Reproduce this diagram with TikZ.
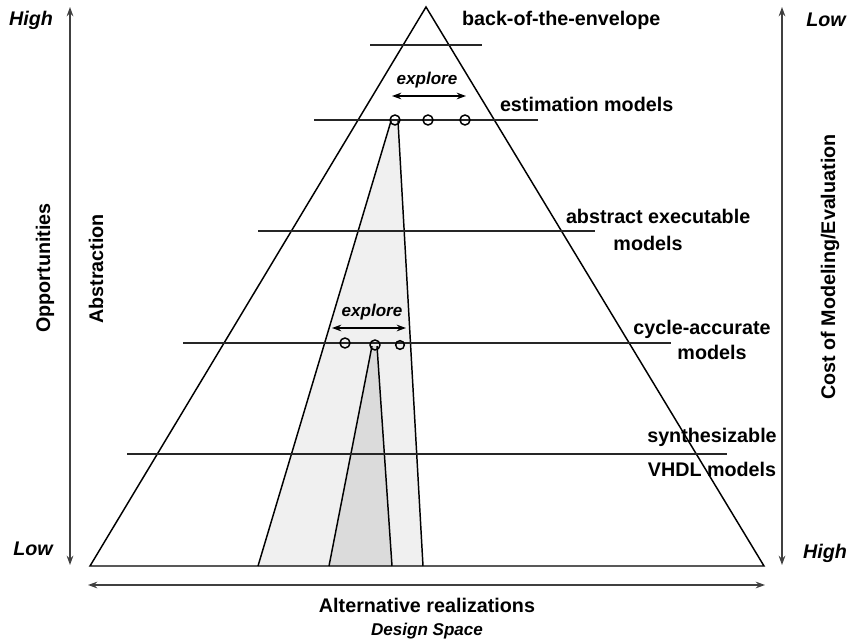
\documentclass[tikz,border=0pt]{standalone}
\usepackage{fontspec}
\setmainfont{Liberation Sans}
\usetikzlibrary{arrows.meta}
\begin{document}
\begin{tikzpicture}[x=0.75pt,y=-0.75pt,
  every node/.style={inner sep=0pt, outer sep=0pt},
  lbl/.style={font=\fontsize{14.8}{17}\selectfont\bfseries},
  lblit/.style={font=\fontsize{14.8}{17}\selectfont\bfseries\itshape},
  small/.style={font=\fontsize{12.8}{15}\selectfont\bfseries\itshape},
  level/.style={line width=1.1pt, black!85},
  edge/.style={line width=1.1pt, black},
  axis/.style={line width=1.1pt, black!75, {Stealth[length=7pt,width=5pt]}-{Stealth[length=7pt,width=5pt]}},
  explorearrow/.style={line width=1.1pt, black, {Stealth[length=7pt,width=5pt]}-{Stealth[length=7pt,width=5pt]}},
  pt/.style={circle, draw, line width=1.1pt, minimum size=7.5pt}
]
\useasboundingbox (0,0) rectangle (849,641);

% design-space pyramid
\coordinate (apex) at (426,7);
\coordinate (bl) at (90,566);
\coordinate (br) at (764,566);

% narrowed regions of the space
\fill[black!6] (391,121) -- (398,121) -- (423,566) -- (258,566) -- cycle;
\draw[edge] (391,121) -- (258,566);
\draw[edge] (398,121) -- (423,566);
\fill[black!14] (372,346) -- (377,346) -- (392,566) -- (329,566) -- cycle;
\draw[edge] (372,346) -- (329,566);
\draw[edge] (377,346) -- (392,566);

\draw[edge, line join=miter] (apex) -- (bl) -- (br) -- cycle;

% abstraction levels
\coordinate (l1a) at (370,45);  \coordinate (l1b) at (482,45);
\coordinate (l2a) at (314,120); \coordinate (l2b) at (538,120);
\coordinate (l3a) at (258,231); \coordinate (l3b) at (595,231);
\coordinate (l4a) at (183,343); \coordinate (l4b) at (671,343);
\coordinate (l5a) at (127,454); \coordinate (l5b) at (727,454);
\draw[level] (l1a) -- (l1b);
\draw[level] (l2a) -- (l2b);
\draw[level] (l3a) -- (l3b);
\draw[level] (l4a) -- (l4b);
\draw[level] (l5a) -- (l5b);

\node[lbl, anchor=west] (t1) at (462,20) {back-of-the-envelope};
\node[lbl, anchor=west] (t2) at (500,104) {estimation models};
\node[lbl, anchor=west] (t3a) at (566,216) {abstract executable};
\node[lbl] (t3b) at (648,243) {models};
\node[lbl] (t4a) at (702,329) {cycle-accurate};
\node[lbl] (t4b) at (712,352) {models};
\node[lbl] (t5a) at (712,437) {synthesizable};
\node[lbl] (t5b) at (712,469) {VHDL models};

% candidate points
\node[pt] (e1) at (395,120) {};
\node[pt] (e2) at (428,120) {};
\node[pt] (e3) at (465,120) {};
\node[pt] (c1) at (345,343) {};
\node[pt] (c2) at (375,345) {};
\node[pt, minimum size=6.5pt] (c3) at (400,345) {};

% exploration
\coordinate (x1a) at (392,96); \coordinate (x1b) at (466,96);
\draw[explorearrow] (x1a) -- (x1b);
\node[small] (x1) at (427,80) {explore};
\coordinate (x2a) at (332,328); \coordinate (x2b) at (406,328);
\draw[explorearrow] (x2a) -- (x2b);
\node[small] (x2) at (372,312) {explore};

% side axes
\coordinate (la) at (70,7);  \coordinate (lb) at (70,565);
\coordinate (ra) at (782,7); \coordinate (rb) at (782,565);
\draw[axis] (la) -- (lb);
\draw[axis] (ra) -- (rb);
\node[lblit] (lh) at (31,20) {High};
\node[lblit] (ll) at (33,549) {Low};
\node[lblit] (rl) at (826,20) {Low};
\node[lblit] (rh) at (825,553) {High};
\node[lbl, rotate=90] (opp) at (45,268) {Opportunities};
\node[lbl, rotate=90] (abs) at (96,269) {Abstraction};
\node[lbl, rotate=90] (cost) at (830,267) {Cost of Modeling/Evaluation};

% bottom axis
\coordinate (ba) at (88,585); \coordinate (bb) at (765,585);
\draw[axis] (ba) -- (bb);
\node[lbl] (alt) at (427,605) {Alternative realizations};
\node[small] (ds) at (427,631) {Design Space};
\end{tikzpicture}
\end{document}
